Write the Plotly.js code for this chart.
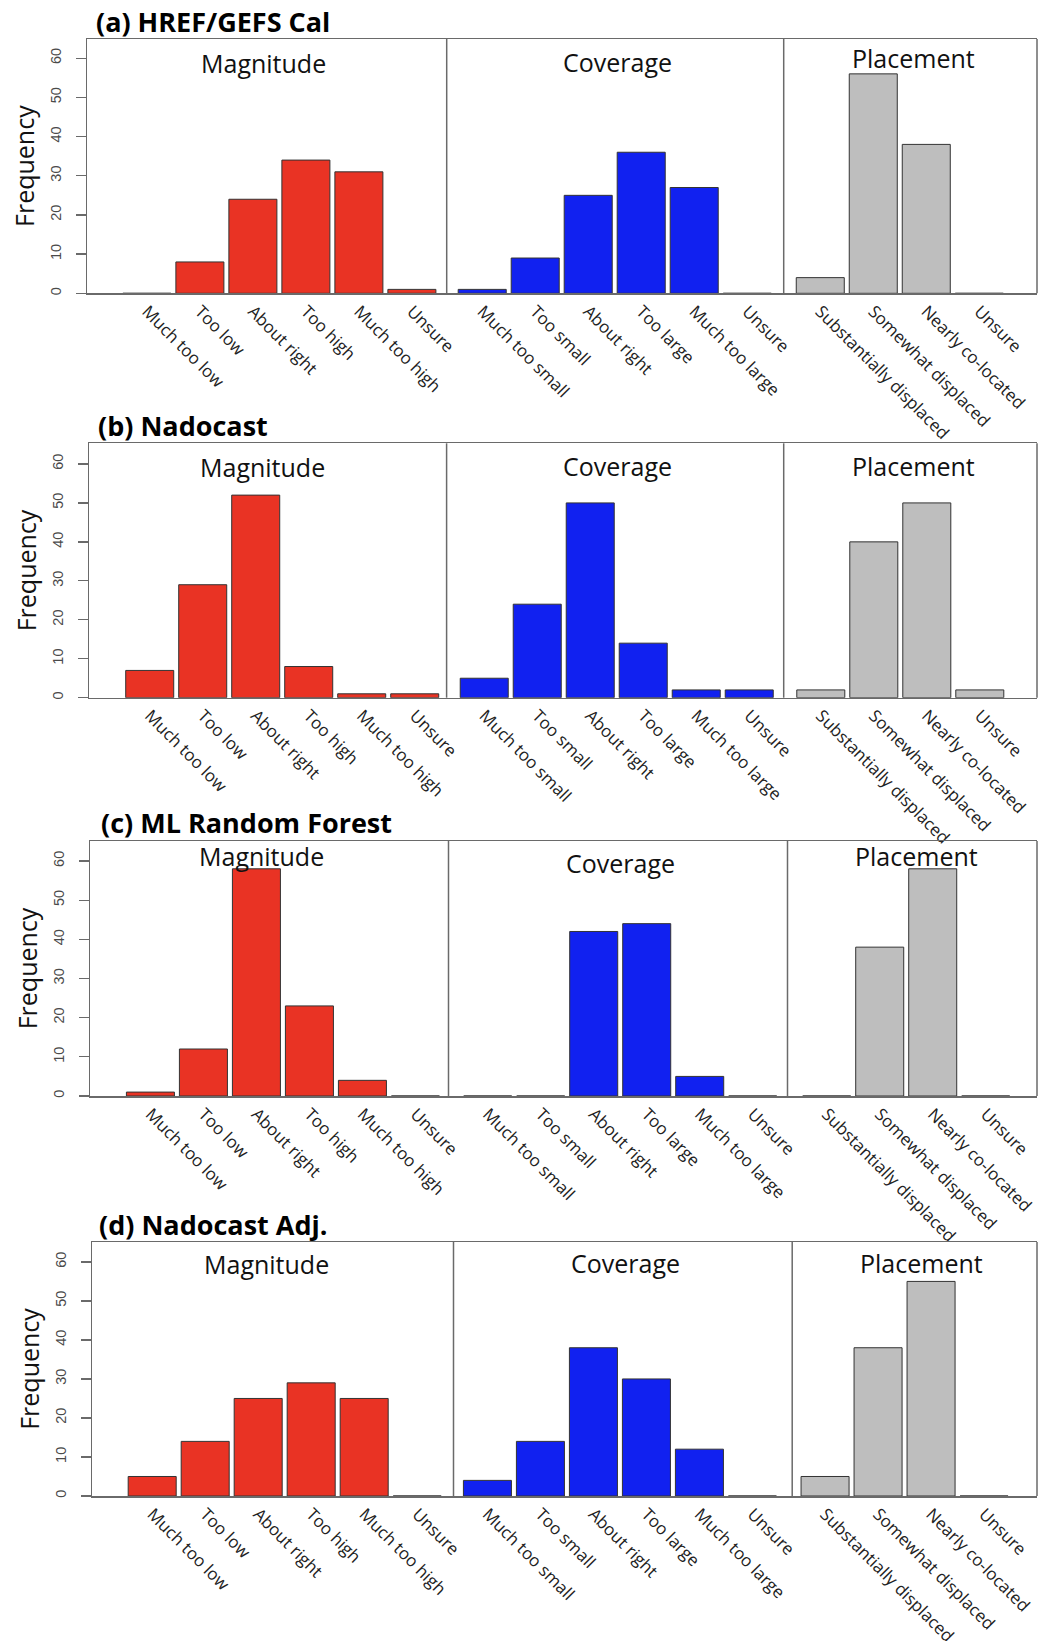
<!DOCTYPE html>
<html><head><meta charset="utf-8">
<script src="https://cdn.plot.ly/plotly-3.0.1.min.js"></script>
<style>body{margin:0;padding:0;background:#fff}#chart{width:1039px;height:1641px}</style>
</head><body><div id="chart"></div>
<script>
// ---- data ----
const magnitudeCats = ["Much too low","Too low","About right","Too high","Much too high","Unsure"];
const coverageCats = ["Much too small","Too small","About right","Too large","Much too large","Unsure"];
const placementCats = ["Substantially displaced","Somewhat displaced","Nearly co-located","Unsure"];
const panelTitles = ["(a) HREF/GEFS Cal","(b) Nadocast","(c) ML Random Forest","(d) Nadocast Adj."];
const groupTitles = ["Magnitude","Coverage","Placement"];
const yTickVals = [0,10,20,30,40,50,60];

const magnitudeA = [0,8,24,34,31,1];
const coverageA  = [1,9,25,36,27,0];
const placementA = [4,56,38,0];
const magnitudeB = [7,29,52,8,1,1];
const coverageB  = [5,24,50,14,2,2];
const placementB = [2,40,50,2];
const magnitudeC = [1,12,58,23,4,0];
const coverageC  = [0,0,42,44,5,0];
const placementC = [0,38,58,0];
const magnitudeD = [5,14,25,29,25,0];
const coverageD  = [4,14,38,30,12,0];
const placementD = [5,38,55,0];

const panelData = [
  [magnitudeA, coverageA, placementA],
  [magnitudeB, coverageB, placementB],
  [magnitudeC, coverageC, placementC],
  [magnitudeD, coverageD, placementD]
];
const groupCats = [magnitudeCats, coverageCats, placementCats];
const groupColors = ["#E93324", "#1121F0", "#BEBEBE"];

// ---- layout geometry (pixels) ----
const W = 1039, H = 1641;
const px = p => p / W, py = p => 1 - p / H;
const geom = [
  {left:87,   d1:446.7, d2:783.7, right:1037, top:39,    zero:293.3, ytop:64.9, starts:[-1.13,-0.67,-0.69], tx:94,  ty:21,   gt:[[263,63],[617.5,62],[913,57.5]]},
  {left:89.3, d1:446.6, d2:783.7, right:1037, top:443.3, zero:697.7, ytop:65.3, starts:[-1.14,-0.71,-0.70], tx:96,  ty:425,  gt:[[262.5,467],[617.5,466],[913.5,466]]},
  {left:90,   d1:448.5, d2:787.5, right:1037, top:841,   zero:1096,  ytop:65.1, starts:[-1.14,-0.74,-0.74], tx:99,  ty:822,  gt:[[261,856],[620.5,862.5],[916,856]]},
  {left:92.3, d1:453.5, d2:792.2, right:1037, top:1242,  zero:1496,  ytop:65.1, starts:[-1.13,-0.64,-0.62], tx:97,  ty:1224, gt:[[266,1264],[625,1263],[921,1263]]}
];
const pitch = 53;
const frameColor = "#6a6a6a";

const traces = [];
const layout = {
  width: W, height: H, autosize: false,
  margin: {l:0, r:0, t:0, b:0},
  paper_bgcolor: "#fff", plot_bgcolor: "rgba(0,0,0,0)",
  showlegend: false, bargap: 0.094,
  annotations: [], shapes: []
};

geom.forEach((g, p) => {
  const yName = p === 0 ? "y" : "y" + (p + 1);
  const yKey = p === 0 ? "yaxis" : "yaxis" + (p + 1);
  const edges = [[g.left, g.d1], [g.d1, g.d2], [g.d2, g.right]];
  edges.forEach((e, k) => {
    const idx = p * 3 + k + 1;
    const xName = idx === 1 ? "x" : "x" + idx;
    const xKey = idx === 1 ? "xaxis" : "xaxis" + idx;
    traces.push({
      type: "bar", x: groupCats[k], y: panelData[p][k],
      xaxis: xName, yaxis: yName,
      marker: {color: groupColors[k], line: {color: "#333", width: 1}},
      hoverinfo: "x+y"
    });
    const start = g.starts[k];
    layout[xKey] = {
      domain: [px(e[0]), px(e[1])], anchor: yName,
      type: "category", range: [start, start + (e[1] - e[0]) / pitch],
      showline: true, mirror: true, linecolor: frameColor, linewidth: 1.5,
      ticks: "", tickangle: 45, showgrid: false, zeroline: false,
      tickfont: {family: "Open Sans, sans-serif", size: 17, color: "#222"},
      automargin: false, fixedrange: true
    };
    layout.annotations.push({
      xref: "paper", yref: "paper", x: px(g.gt[k][0]), y: py(g.gt[k][1]),
      xanchor: "center", yanchor: "middle", showarrow: false,
      text: groupTitles[k], font: {family: "Open Sans, sans-serif", size: 25, color: "#111"}
    });
  });
  layout[yKey] = {
    domain: [py(g.zero), py(g.top)], anchor: p === 0 ? "x" : "x" + (p * 3 + 1),
    range: [0, g.ytop], tickvals: yTickVals, ticks: "outside", ticklen: 10,
    tickcolor: frameColor, tickwidth: 1.3, tickangle: -90, ticklabelstandoff: 9,
    tickfont: {family: "Liberation Sans, Arial, sans-serif", size: 14.5, color: "#4a4a4a"},
    showline: true, linecolor: frameColor, linewidth: 1.5,
    showgrid: false, zeroline: false, automargin: false, fixedrange: true,
    title: {text: "Frequency", font: {family: "Open Sans, sans-serif", size: 25, color: "#111"}, standoff: 6}
  };
  // dividers and right edge
  [g.d1, g.d2, g.right].forEach(xp => {
    layout.shapes.push({type: "line", xref: "paper", yref: "paper",
      x0: px(xp), x1: px(xp), y0: py(g.zero), y1: py(g.top),
      line: {color: frameColor, width: 1.5}});
  });
  layout.annotations.push({
    xref: "paper", yref: "paper", x: px(g.tx), y: py(g.ty),
    xanchor: "left", yanchor: "middle", showarrow: false,
    text: "<b>" + panelTitles[p] + "</b>",
    font: {family: "Open Sans, sans-serif", size: 27, color: "#000"}
  });
});

Plotly.newPlot("chart", traces, layout, {staticPlot: true, displayModeBar: false});
</script>
</body></html>
